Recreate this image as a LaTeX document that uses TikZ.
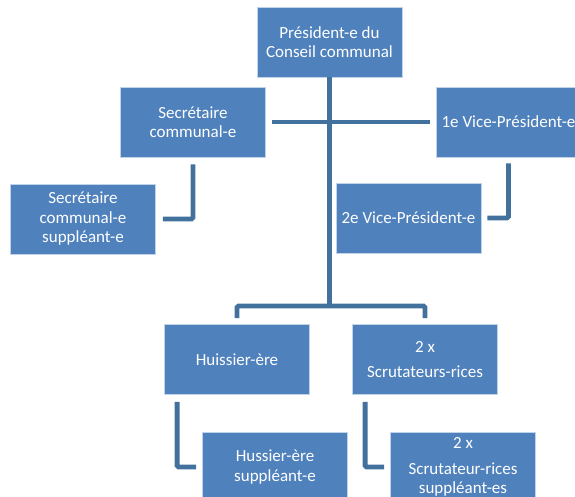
\documentclass[tikz,border=0pt]{standalone}
\usepackage{fontspec}
\setmainfont{Carlito}
\usepackage{xcolor}
\definecolor{boxblue}{HTML}{4F81BD}
\definecolor{lineblue}{HTML}{41719C}

\tikzset{
  orgbox/.style={rectangle, fill=boxblue, draw=white!65!boxblue, line width=0.8pt,
    minimum width=145pt, minimum height=70pt, inner sep=2pt, align=center,
    text=white, font=\fontsize{17}{19.5}\selectfont},
  conn/.style={lineblue, line width=4.8pt, rounded corners=1.5pt}
}

\begin{document}
\begin{tikzpicture}[x=1pt, y=-1pt]
\useasboundingbox (0,0) rectangle (575,497);
\clip (0,0) rectangle (575,497);

% Top: president and the two sides
\node[orgbox] (pres) at (329.5,42) {Président-e du\\Conseil communal};
\node[orgbox] (sec)  at (193,122)  {Secrétaire\\communal-e};
\node[orgbox] (secs) at (83,219) {Secrétaire\\communal-e\\suppléant-e};
\node[orgbox] (vpa)  at (508.5,122) {1e Vice-Président-e};
\node[orgbox] (vpb)  at (408.5,218) {2e Vice-Président-e};

% Bottom row
\node[orgbox] (hui)  at (237,359.5) {Huissier-ère};
\node[orgbox] (scr)  at (425,359.5) {2 x\\[6pt]Scrutateurs-rices};
\node[orgbox] (huis) at (275,467) {Hussier-ère\\suppléant-e};
\node[orgbox] (scrs) at (463,467) {2 x\\[6pt]Scrutateur-rices\\suppléant-es};

% Connectors
\coordinate (bus) at (329.5,306);
\draw[conn] (pres.south) -- (bus);
\draw[conn, shorten <=6pt, shorten >=6pt] (sec.east) -- (vpa.west);
\draw[conn, shorten <=7pt, shorten >=7pt] (sec.south) |- (secs.east);
\draw[conn, shorten <=6pt, shorten >=6pt] (vpa.south) |- (vpb.east);
\draw[conn, shorten <=6pt, shorten >=6pt] (hui.north) |- (bus) -| (scr.north);
\draw[conn, shorten <=7pt, shorten >=6pt] ([xshift=13pt]hui.south west) |- (huis.west);
\draw[conn, shorten <=7pt, shorten >=6pt] ([xshift=13pt]scr.south west) |- (scrs.west);
\end{tikzpicture}
\end{document}
